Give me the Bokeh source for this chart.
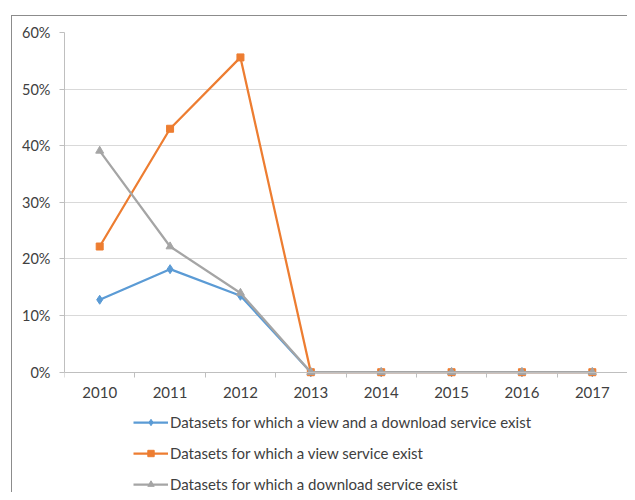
from bokeh.plotting import figure
from bokeh.models import (ColumnDataSource, FixedTicker, NumeralTickFormatter, Range1d,
                          Legend, LegendItem)
from bokeh.embed import file_html
from bokeh.resources import INLINE

years = ["2010", "2011", "2012", "2013", "2014", "2015", "2016", "2017"]
view_and_download = [0.128, 0.182, 0.135, 0.0, 0.0, 0.0, 0.0, 0.0]
view_only = [0.222, 0.430, 0.556, 0.0, 0.0, 0.0, 0.0, 0.0]
download_only = [0.391, 0.222, 0.140, 0.0, 0.0, 0.0, 0.0, 0.0]
y_ticks = [0.0, 0.1, 0.2, 0.3, 0.4, 0.5, 0.6]
labels = ["Datasets for which a view and a download service exist",
          "Datasets for which a view service exist",
          "Datasets for which a download service exist"]

xpos = [i + 0.5 for i in range(len(years))]
src = ColumnDataSource(dict(x=xpos, a=view_and_download, b=view_only, c=download_only))

FONT = "Lato"

p = figure(width=616, height=477, output_backend="svg", toolbar_location=None,
           x_range=Range1d(0, len(years)), y_range=Range1d(-0.2142, 0.6),
           min_border_left=52, min_border_right=1, min_border_top=16, min_border_bottom=0)
p.margin = (15, 0, 0, 11)
p.styles = {"border-left": "1px solid #8C8C8C", "border-top": "1px solid #8C8C8C"}
p.outline_line_color = None
p.background_fill_color = "white"
p.border_fill_color = "white"

# Grid
p.xgrid.grid_line_color = None
p.ygrid.grid_line_color = "#D9D9D9"
p.ygrid.grid_line_width = 1

# X axis (drawn at the 0 line)
p.xaxis.fixed_location = 0
p.xaxis.ticker = FixedTicker(ticks=xpos, minor_ticks=list(range(len(years) + 1)))
p.xaxis.major_label_overrides = {x: y for x, y in zip(xpos, years)}
p.xaxis.major_tick_out = 0
p.xaxis.major_tick_in = 0
p.xaxis.minor_tick_out = 5
p.xaxis.minor_tick_in = 0
p.xaxis.minor_tick_line_color = "#BFBFBF"
p.xaxis.axis_line_color = "#BFBFBF"
p.xaxis.major_label_standoff = 10
p.xaxis.major_label_text_font = FONT
p.xaxis.major_label_text_font_size = "15px"
p.xaxis.major_label_text_color = "#404040"

# Y axis
p.yaxis.ticker = FixedTicker(ticks=y_ticks, minor_ticks=[])
p.yaxis.bounds = (0, 0.6)
p.yaxis.formatter = NumeralTickFormatter(format="0%")
p.yaxis.major_tick_out = 5
p.yaxis.major_tick_in = 0
p.yaxis.major_tick_line_color = "#BFBFBF"
p.yaxis.axis_line_color = "#BFBFBF"
p.yaxis.major_label_standoff = 9
p.yaxis.major_label_text_font = FONT
p.yaxis.major_label_text_font_size = "14.5px"
p.yaxis.major_label_text_color = "#404040"

# Series
l1 = p.line("x", "a", source=src, line_color="#5B9BD5", line_width=2.25)
m1 = p.scatter("x", "a", source=src, marker="diamond", size=9, fill_color="#5B9BD5", line_color="#5B9BD5")
l2 = p.line("x", "b", source=src, line_color="#ED7D31", line_width=2.25)
m2 = p.scatter("x", "b", source=src, marker="square", size=7, fill_color="#ED7D31", line_color="#ED7D31")
l3 = p.line("x", "c", source=src, line_color="#A5A5A5", line_width=2.25)
m3 = p.scatter("x", "c", source=src, marker="triangle", size=8, fill_color="#A5A5A5", line_color="#A5A5A5")

legend = Legend(items=[LegendItem(label=labels[0], renderers=[l1, m1]),
                       LegendItem(label=labels[1], renderers=[l2, m2]),
                       LegendItem(label=labels[2], renderers=[l3, m3])],
                location=(69, 0), orientation="vertical",
                glyph_width=35, glyph_height=16, label_height=16, spacing=13,
                label_standoff=2, padding=0, margin=0,
                border_line_color=None, background_fill_alpha=0,
                label_text_font=FONT, label_text_font_size="15px",
                label_text_color="#404040")
p.add_layout(legend, "center")

open("out.html", "w").write(file_html(p, INLINE))
